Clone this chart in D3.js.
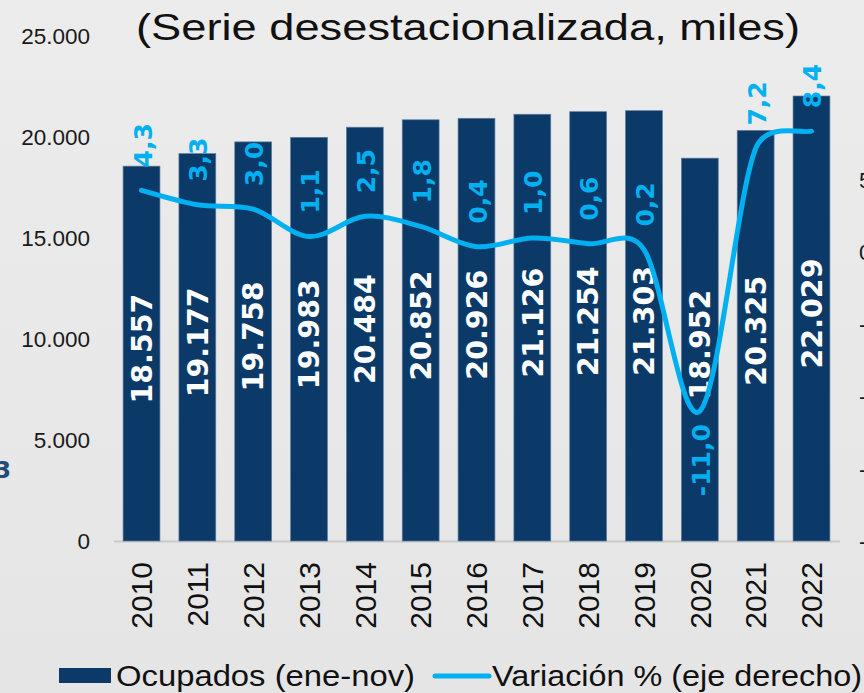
<!DOCTYPE html>
<html>
<head>
<meta charset="utf-8">
<script src="https://cdn.jsdelivr.net/npm/d3@7"></script>
<style>
  html, body { margin: 0; padding: 0; background: #e7e7e7; }
  svg { display: block; }
</style>
</head>
<body>
<script>
const years = ["2010","2011","2012","2013","2014","2015","2016","2017","2018","2019","2020","2021","2022"];
const ocupados = [18557, 19177, 19758, 19983, 20484, 20852, 20926, 21126, 21254, 21303, 18952, 20325, 22029];
const variacion = [4.3, 3.3, 3.0, 1.1, 2.5, 1.8, 0.4, 1.0, 0.6, 0.2, -11.0, 7.2, 8.4];
const leftTicks = [0, 5000, 10000, 15000, 20000, 25000];
const rightTicks = [-20, -15, -10, -5, 0, 5];
const titleText = "(Serie desestacionalizada, miles)";
const legendLabels = ["Ocupados (ene-nov)", "Variación % (eje derecho)"];

const W = 864, H = 693;
const barColor = "#0b3a69", lineColor = "#00b0f0";

const svg = d3.select("body").append("svg").attr("width", W).attr("height", H);

const defs = svg.append("defs");
const grad = defs.append("linearGradient").attr("id", "bg").attr("x1", 0).attr("y1", 0).attr("x2", 0).attr("y2", 1);
grad.append("stop").attr("offset", "0%").attr("stop-color", "#ececec");
grad.append("stop").attr("offset", "100%").attr("stop-color", "#e5e5e5");
svg.append("rect").attr("width", W).attr("height", H).attr("fill", "url(#bg)");

const x = d3.scaleBand().domain(years).range([113.6, 839.4]).paddingInner(0.34).paddingOuter(0.17);
const yL = d3.scaleLinear().domain([0, 25000]).range([541, 36]);
const yR = d3.scaleLinear().domain([-20, 15]).range([541, 36]);

const fmtL = d => d3.format(",")(d).replace(/,/g, ".");
const fmtPct = d => d3.format(".1f")(d).replace(".", ",").replace("−", "-");

// Title
svg.append("text")
  .attr("x", 136).attr("y", 40)
  .attr("textLength", 664).attr("lengthAdjust", "spacingAndGlyphs")
  .attr("font-family", "Liberation Sans, Arial, sans-serif")
  .attr("font-size", 37).attr("fill", "#111")
  .text(titleText);

// Left axis labels
const leftAxis = d3.axisLeft(yL).tickValues(leftTicks).tickFormat(fmtL).tickSize(0).tickPadding(0);
const gl = svg.append("g").attr("transform", "translate(90,0)").call(leftAxis);
gl.select(".domain").remove();
gl.selectAll("text").attr("font-family", "Liberation Sans, Arial, sans-serif").attr("font-size", 22.5).attr("fill", "#1a1a1a");

// Right axis labels (cut off at the edge, as in the source)
const rightAxis = d3.axisRight(yR).tickValues(rightTicks).tickFormat(d => d3.format("d")(d).replace("−", "-")).tickSize(0).tickPadding(0);
const gr = svg.append("g").attr("transform", "translate(859,0)").call(rightAxis);
gr.select(".domain").remove();
gr.selectAll("text").attr("font-family", "Liberation Sans, Arial, sans-serif").attr("font-size", 22.5).attr("fill", "#1a1a1a");

// partial text at left edge
svg.append("text").attr("x", 11).attr("y", 478).attr("text-anchor", "end")
  .attr("font-family", "DejaVu Sans, sans-serif").attr("font-weight", "bold")
  .attr("font-size", 23).attr("fill", "#1f4e79").text("3");

// Baseline
svg.append("line").attr("x1", 114).attr("x2", 840).attr("y1", 541.5).attr("y2", 541.5)
  .attr("stroke", "#c9c9c9").attr("stroke-width", 2);

// Bars
svg.append("g").selectAll("rect").data(years).join("rect")
  .attr("x", d => x(d))
  .attr("y", (d, i) => yL(ocupados[i]))
  .attr("width", x.bandwidth())
  .attr("height", (d, i) => yL(0) - yL(ocupados[i]))
  .attr("fill", barColor)
  .attr("stroke", "#5d7d9c").attr("stroke-width", 0.7);

// Bar labels
svg.append("g").selectAll("text").data(years).join("text")
  .attr("transform", (d, i) => {
    const cx = x(d) + x.bandwidth() / 2;
    const cy = (yL(ocupados[i]) + yL(0)) / 2 - 5;
    return `translate(${cx},${cy}) rotate(-90)`;
  })
  .attr("text-anchor", "middle").attr("dy", "0.36em")
  .attr("font-family", "DejaVu Sans, sans-serif").attr("font-weight", "bold")
  .attr("font-size", 28.5).attr("fill", "#ffffff")
  .text((d, i) => fmtL(ocupados[i]));

// Line: spreadsheet-style smoothed Bezier with limited control arms
const pts = variacion.map((v, i) => [x(years[i]) + x.bandwidth() / 2, yR(v)]);
const dist = (a, b) => Math.hypot(b[0] - a[0], b[1] - a[1]);
const p = d3.path();
p.moveTo(pts[0][0], pts[0][1]);
for (let i = 0; i < pts.length - 1; i++) {
  const P0 = pts[i - 1] || pts[i], P1 = pts[i], P2 = pts[i + 1], P3 = pts[i + 2] || pts[i + 1];
  const d12 = dist(P1, P2), d02 = dist(P0, P2), d13 = dist(P1, P3);
  const f1 = (d02 / 6 < d12 / 2) ? 1 / 6 : d12 / (2 * d02);
  const f2 = (d13 / 6 < d12 / 2) ? 1 / 6 : d12 / (2 * d13);
  const c1 = [P1[0] + (P2[0] - P0[0]) * f1, P1[1] + (P2[1] - P0[1]) * f1];
  const c2 = [P2[0] - (P3[0] - P1[0]) * f2, P2[1] - (P3[1] - P1[1]) * f2];
  p.bezierCurveTo(c1[0], c1[1], c2[0], c2[1], P2[0], P2[1]);
}
svg.append("path")
  .attr("d", p.toString()).attr("fill", "none")
  .attr("stroke", lineColor).attr("stroke-width", 5).attr("stroke-linecap", "round");

// Line labels
svg.append("g").selectAll("text").data(variacion).join("text")
  .attr("transform", (d, i) => {
    const cx = x(years[i]) + x.bandwidth() / 2 + 1;
    const cy = d < 0 ? yR(d) + 13 : yR(d) - 23;
    return `translate(${cx},${cy}) rotate(-90)`;
  })
  .attr("text-anchor", d => d < 0 ? "end" : "start").attr("dy", "0.36em")
  .attr("font-family", "DejaVu Sans, sans-serif").attr("font-weight", "bold")
  .attr("font-size", 25).attr("fill", lineColor)
  .text(d => fmtPct(d));

// Year labels
svg.append("g").selectAll("text").data(years).join("text")
  .attr("transform", d => `translate(${x(d) + x.bandwidth() / 2},562) rotate(-90)`)
  .attr("text-anchor", "end").attr("dy", "0.36em")
  .attr("font-family", "Liberation Sans, Arial, sans-serif")
  .attr("font-size", 30).attr("fill", "#111")
  .text(d => d);

// Legend
const lg = svg.append("g");
lg.append("rect").attr("x", 59).attr("y", 668).attr("width", 52).attr("height", 15).attr("fill", barColor);
lg.append("text").attr("x", 116).attr("y", 686)
  .attr("textLength", 299).attr("lengthAdjust", "spacingAndGlyphs")
  .attr("font-family", "Liberation Sans, Arial, sans-serif").attr("font-size", 29).attr("fill", "#111")
  .text(legendLabels[0]);
lg.append("line").attr("x1", 435).attr("x2", 489).attr("y1", 676).attr("y2", 676)
  .attr("stroke", lineColor).attr("stroke-width", 5).attr("stroke-linecap", "round");
lg.append("text").attr("x", 492).attr("y", 686)
  .attr("textLength", 370).attr("lengthAdjust", "spacingAndGlyphs")
  .attr("font-family", "Liberation Sans, Arial, sans-serif").attr("font-size", 29).attr("fill", "#111")
  .text(legendLabels[1]);
</script>
</body>
</html>
